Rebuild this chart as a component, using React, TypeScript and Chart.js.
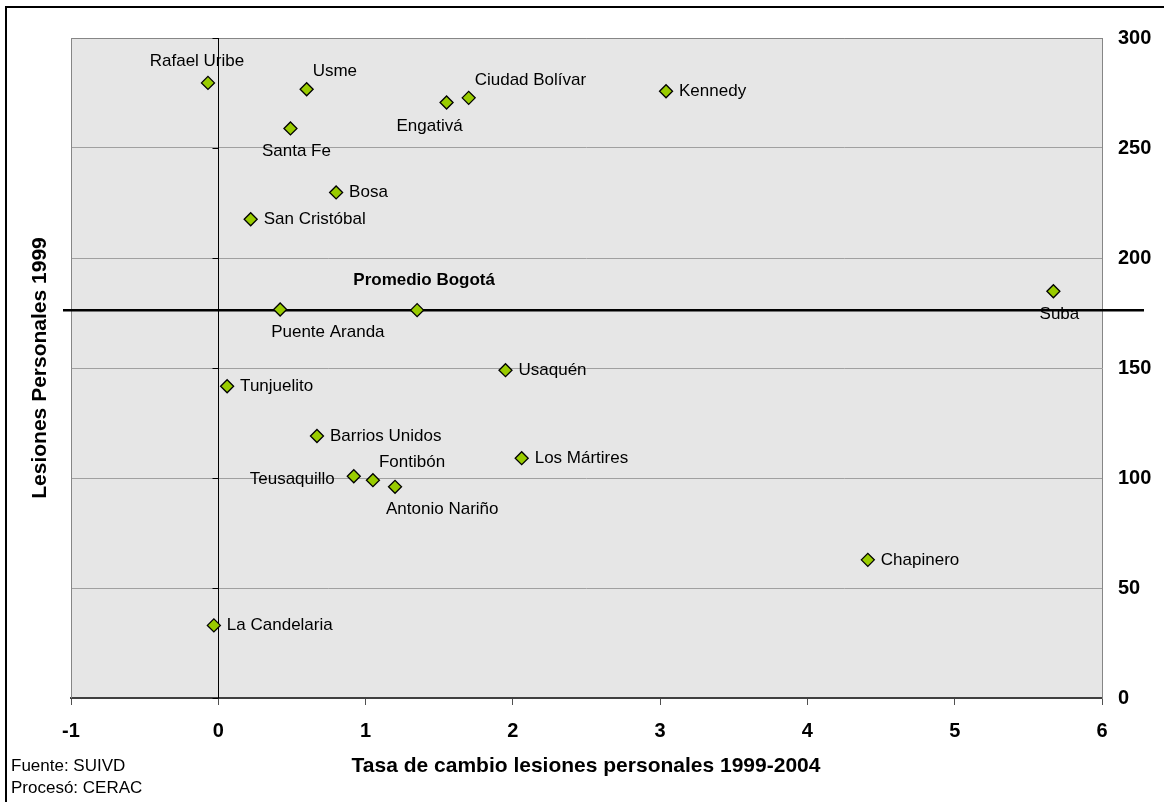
import React, { useEffect, useRef } from 'react';
import { Chart, registerables } from 'chart.js';

Chart.register(...registerables);

const DISTRICTS = [
  'Rafael Uribe', 'Usme', 'Santa Fe', 'Engativá', 'Ciudad Bolívar', 'Kennedy', 'Bosa',
  'San Cristóbal', 'Puente Aranda', 'Suba', 'Usaquén', 'Tunjuelito', 'Barrios Unidos',
  'Los Mártires', 'Teusaquillo', 'Fontibón', 'Antonio Nariño', 'Chapinero', 'La Candelaria',
];
const CHANGE_RATE = [
  -0.07, 0.6, 0.49, 1.55, 1.7, 3.04, 0.8,
  0.22, 0.42, 5.67, 1.95, 0.06, 0.67,
  2.06, 0.92, 1.05, 1.2, 4.41, -0.03,
];
const INJURIES_1999 = [
  279.6, 276.7, 258.9, 270.7, 272.8, 275.8, 229.8,
  217.6, 176.6, 184.9, 149.0, 141.7, 119.1,
  109.0, 100.8, 99.0, 96.0, 62.8, 33.0,
];
// label side relative to the marker (compass keyword)
const LABEL_SIDE = [
  'N', 'NE', 'S', 'SW', 'NE', 'E', 'E',
  'E', 'SE', 'S', 'E', 'E', 'E',
  'E', 'W', 'NE', 'SE', 'E', 'E',
];
const AVERAGE_LABEL = 'Promedio Bogotá';
const AVERAGE_RATE = [1.35];
const AVERAGE_INJURIES = [176.3];

const X_MIN = -1;
const X_MAX = 6;
const Y_MIN = 0;
const Y_MAX = 300;
const X_STEP = 1;
const Y_STEP = 50;

const X_TITLE = 'Tasa de cambio lesiones personales 1999-2004';
const Y_TITLE = 'Lesiones Personales 1999';
const FOOTNOTES = ['Fuente: SUIVD', 'Procesó: CERAC'];

const FONT = "'Liberation Sans', Arial, sans-serif";

const SIDE_STYLE: Record<string, { dx: number; dy: number; align: CanvasTextAlign }> = {
  N: { dx: -11, dy: -22, align: 'center' },
  NE: { dx: 6, dy: -18, align: 'left' },
  S: { dx: 6, dy: 23, align: 'center' },
  SW: { dx: -17, dy: 24, align: 'center' },
  SE: { dx: -9, dy: 23, align: 'left' },
  E: { dx: 13, dy: 0, align: 'left' },
  W: { dx: -19, dy: 3, align: 'right' },
};

const decorPlugin = {
  id: 'decor',
  beforeDraw(chart: any) {
    const { ctx, chartArea: a, width, height } = chart;
    ctx.save();
    ctx.fillStyle = '#ffffff';
    ctx.fillRect(0, 0, width, height);
    ctx.fillStyle = '#e6e6e6';
    ctx.fillRect(a.left, a.top, a.right - a.left, a.bottom - a.top);
    ctx.strokeStyle = '#000000';
    ctx.lineWidth = 2;
    ctx.strokeRect(6, 7, width + 40, height + 40);
    ctx.restore();
  },
  beforeDatasetsDraw(chart: any) {
    const { ctx, chartArea: a, scales } = chart;
    const xs = scales.x;
    const ys = scales.y;
    ctx.save();
    // plot border top & left
    ctx.strokeStyle = '#868686';
    ctx.lineWidth = 1;
    ctx.beginPath();
    ctx.moveTo(a.left + 0.5, a.bottom);
    ctx.lineTo(a.left + 0.5, a.top + 0.5);
    ctx.lineTo(a.right, a.top + 0.5);
    ctx.stroke();

    // vertical axis through x = 0 with tick marks
    const x0 = Math.round(xs.getPixelForValue(0)) + 0.5;
    ctx.strokeStyle = '#000000';
    ctx.lineWidth = 1;
    ctx.beginPath();
    ctx.moveTo(x0, a.top);
    ctx.lineTo(x0, a.bottom);
    for (let v = Y_MIN; v <= Y_MAX; v += Y_STEP) {
      const y = Math.round(ys.getPixelForValue(v)) + 0.5;
      ctx.moveTo(x0 - 6, y);
      ctx.lineTo(x0, y);
    }
    ctx.stroke();

    // point labels
    const meta = chart.getDatasetMeta(0);
    ctx.fillStyle = '#000000';
    ctx.font = `17px ${FONT}`;
    ctx.textBaseline = 'middle';
    meta.data.forEach((pt: any, i: number) => {
      const s = SIDE_STYLE[LABEL_SIDE[i]] || SIDE_STYLE.E;
      ctx.textAlign = s.align;
      ctx.fillText(DISTRICTS[i], pt.x + s.dx, pt.y + s.dy);
    });
    const avgMeta = chart.getDatasetMeta(1);
    const ap = avgMeta.data[0];
    ctx.font = `bold 17px ${FONT}`;
    ctx.textAlign = 'center';
    ctx.fillText(AVERAGE_LABEL, ap.x + 7, ap.y - 30);

    // average line
    const ya = ys.getPixelForValue(AVERAGE_INJURIES[0]);
    ctx.strokeStyle = '#000000';
    ctx.lineWidth = 2.5;
    ctx.beginPath();
    ctx.moveTo(63, ya);
    ctx.lineTo(1144, ya);
    ctx.stroke();
    ctx.restore();
  },
  afterDraw(chart: any) {
    const { ctx } = chart;
    ctx.save();
    ctx.fillStyle = '#000000';
    ctx.font = `bold 21px ${FONT}`;
    ctx.textAlign = 'center';
    ctx.textBaseline = 'middle';
    ctx.fillText(X_TITLE, 586, 766);
    ctx.translate(40, 368);
    ctx.rotate(-Math.PI / 2);
    ctx.fillText(Y_TITLE, 0, 0);
    ctx.restore();

    ctx.save();
    ctx.fillStyle = '#000000';
    ctx.font = `17px ${FONT}`;
    ctx.textAlign = 'left';
    ctx.textBaseline = 'middle';
    FOOTNOTES.forEach((t, i) => ctx.fillText(t, 11, 766 + i * 22));
    ctx.restore();
  },
};

export default function App() {
  const ref = useRef<HTMLCanvasElement | null>(null);

  useEffect(() => {
    document.body.style.margin = '0';
    const canvas = ref.current;
    if (!canvas) return;
    const pointStyle = {
      pointStyle: 'rectRot' as const,
      pointRadius: 6.5,
      pointHoverRadius: 6.5,
      pointBackgroundColor: '#99cc00',
      pointBorderColor: '#000000',
      pointBorderWidth: 1.3,
      showLine: false,
    };
    const chart = new Chart(canvas, {
      type: 'scatter',
      data: {
        datasets: [
          {
            label: 'Localidades',
            data: DISTRICTS.map((_, i) => ({ x: CHANGE_RATE[i], y: INJURIES_1999[i] })),
            ...pointStyle,
          },
          {
            label: AVERAGE_LABEL,
            data: AVERAGE_RATE.map((x, i) => ({ x, y: AVERAGE_INJURIES[i] })),
            ...pointStyle,
          },
        ],
      },
      options: {
        animation: false,
        responsive: false,
        devicePixelRatio: 1,
        layout: { padding: { left: 71, top: 38, right: 0, bottom: 0 } },
        plugins: {
          legend: { display: false },
          tooltip: { enabled: false },
        },
        scales: {
          x: {
            type: 'linear',
            position: 'bottom',
            min: X_MIN,
            max: X_MAX,
            afterFit: (s: any) => {
              s.height = 104;
            },
            ticks: {
              stepSize: X_STEP,
              autoSkip: false,
              color: '#000000',
              font: { family: FONT, size: 20, weight: 'bold' },
              padding: 14,
            },
            grid: {
              display: true,
              drawOnChartArea: false,
              drawTicks: true,
              tickLength: 7,
              tickColor: '#505050',
              color: '#505050',
            },
            border: { display: true, color: '#404040', width: 2 },
          },
          y: {
            type: 'linear',
            position: 'right',
            min: Y_MIN,
            max: Y_MAX,
            afterFit: (s: any) => {
              s.width = 62;
            },
            ticks: {
              stepSize: Y_STEP,
              autoSkip: false,
              color: '#000000',
              font: { family: FONT, size: 20, weight: 'bold' },
              padding: 16,
            },
            grid: {
              color: '#a0a0a0',
              lineWidth: 1,
              drawTicks: false,
            },
            border: { display: true, color: '#868686', width: 1 },
          },
        },
      },
      plugins: [decorPlugin],
    });
    return () => chart.destroy();
  }, []);

  return (
    <div style={{ width: 1164, height: 802, position: 'relative' }}>
      <canvas ref={ref} width={1164} height={802} style={{ display: 'block', width: 1164, height: 802 }} />
    </div>
  );
}
